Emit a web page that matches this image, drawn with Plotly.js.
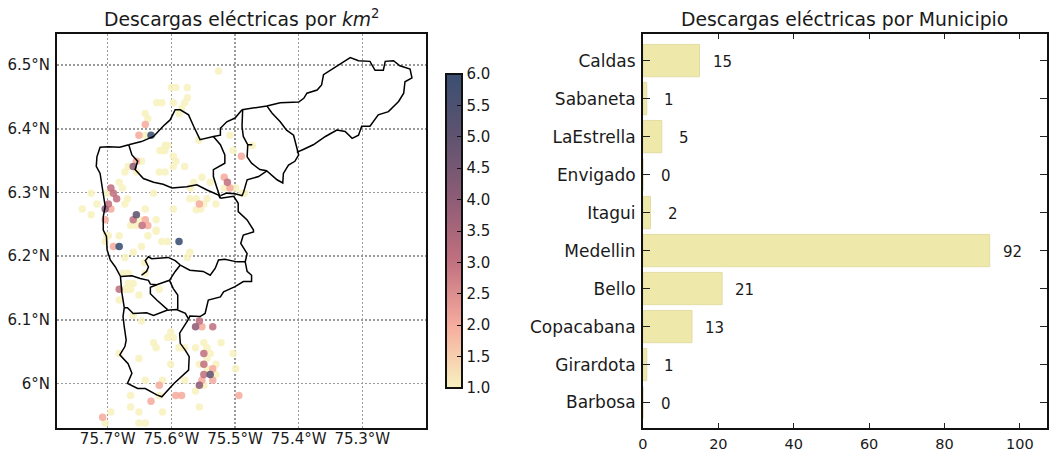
<!DOCTYPE html>
<html>
<head>
<meta charset="utf-8">
<script src="https://cdn.plot.ly/plotly-3.0.1.min.js"></script>
<style>html,body{margin:0;padding:0;background:#fff}#c{width:1052px;height:453px}</style>
</head>
<body>
<div id="c"></div>
<script>
// Strikes per cell: [longitude, latitude] grouped by count
const strikes1 = [
[-75.526,6.491],[-75.600,6.465],[-75.593,6.465],[-75.575,6.465],[-75.623,6.441],[-75.615,6.441],[-75.575,6.449],[-75.579,6.441],[-75.597,6.441],[-75.584,6.432],[-75.588,6.424],
[-75.641,6.424],[-75.637,6.416],[-75.641,6.390],[-75.557,6.382],[-75.508,6.390],[-75.473,6.374],[-75.503,6.366],
[-75.618,6.366],[-75.610,6.374],[-75.606,6.374],[-75.614,6.366],[-75.610,6.366],[-75.597,6.357],[-75.593,6.349],[-75.597,6.341],[-75.579,6.341],
[-75.647,6.349],[-75.668,6.341],[-75.673,6.332],[-75.655,6.332],[-75.619,6.332],[-75.610,6.332],
[-75.552,6.324],[-75.565,6.316],[-75.539,6.316],[-75.570,6.307],[-75.682,6.316],[-75.677,6.307],[-75.517,6.307],[-75.499,6.307],[-75.485,6.299],[-75.489,6.299],
[-75.726,6.299],[-75.700,6.299],[-75.628,6.299],[-75.571,6.290],[-75.561,6.290],[-75.544,6.290],[-75.530,6.282],[-75.549,6.282],[-75.561,6.273],[-75.554,6.274],[-75.597,6.274],
[-75.669,6.290],[-75.673,6.282],[-75.717,6.282],[-75.740,6.274],[-75.726,6.265],[-75.641,6.274],[-75.624,6.257],[-75.650,6.257],[-75.664,6.248],[-75.655,6.248],[-75.624,6.241],
[-75.702,6.233],[-75.682,6.232],[-75.704,6.223],[-75.637,6.232],[-75.624,6.239],[-75.615,6.223],[-75.606,6.223],[-75.647,6.215],[-75.699,6.232],
[-75.571,6.206],[-75.660,6.206],[-75.673,6.198],[-75.575,6.198],[-75.642,6.190],[-75.676,6.173],[-75.668,6.173],[-75.641,6.173],
[-75.668,6.157],[-75.660,6.157],[-75.668,6.148],[-75.664,6.148],[-75.673,6.148],[-75.619,6.148],[-75.651,6.139],[-75.682,6.131],[-75.660,6.107],[-75.647,6.098],
[-75.601,6.081],[-75.606,6.072],[-75.597,6.072],[-75.628,6.064],[-75.624,6.056],[-75.588,6.056],[-75.579,6.056],[-75.562,6.056],[-75.549,6.064],[-75.544,6.056],[-75.522,6.064],
[-75.503,6.047],[-75.682,6.047],[-75.539,6.047],[-75.544,6.039],[-75.651,6.039],[-75.601,6.030],[-75.556,6.030],[-75.530,6.030],[-75.499,6.023],[-75.544,6.023],[-75.530,6.014],
[-75.641,6.005],[-75.614,6.005],[-75.579,6.005],[-75.549,5.997],[-75.562,5.988],[-75.664,5.981],[-75.619,5.981],[-75.664,5.963],[-75.556,5.963],[-75.651,5.955],[-75.614,5.955],[-75.695,5.955],
[-75.704,5.938],[-75.651,5.938],[-75.641,5.938]];
const strikes2 = [[-75.641,6.407],[-75.651,6.390],[-75.490,6.357],[-75.655,6.349],[-75.517,6.324],[-75.508,6.307],[-75.556,6.282],[-75.695,6.274],[-75.704,6.257],[-75.641,6.257],[-75.637,6.248],[-75.691,6.215],[-75.552,6.089],[-75.535,6.023],[-75.552,6.005],[-75.535,6.005],[-75.619,5.997],[-75.593,5.981],[-75.584,5.981],[-75.494,5.981],[-75.632,5.972],[-75.708,5.947]];
const strikes3 = [[-75.695,6.307],[-75.691,6.299],[-75.686,6.290],[-75.646,6.248],[-75.512,6.316],[-75.699,6.282],[-75.660,6.257],[-75.682,6.148],[-75.556,6.098],[-75.535,6.089],[-75.549,6.047],[-75.549,6.030],[-75.549,6.014]];
const strikes4 = [[-75.660,6.341],[-75.704,6.274],[-75.562,6.089],[-75.556,5.997]];
const strikes5 = [[-75.655,6.265],[-75.539,6.014]];
const strikes6 = [[-75.632,6.390],[-75.588,6.223],[-75.682,6.215]];

// Municipal boundaries, each a run of [longitude, latitude]
const boundaryBarbosa = [[-75.489,6.430],[-75.481,6.431],[-75.466,6.434],[-75.450,6.436],[-75.429,6.441],[-75.400,6.442],[-75.392,6.448],[-75.387,6.456],[-75.371,6.461],[-75.364,6.469],[-75.361,6.485],[-75.345,6.495],[-75.327,6.506],[-75.319,6.512],[-75.306,6.507],[-75.288,6.506],[-75.280,6.492],[-75.267,6.492],[-75.264,6.506],[-75.251,6.507],[-75.241,6.499],[-75.225,6.494],[-75.222,6.480],[-75.233,6.474],[-75.235,6.456],[-75.243,6.443],[-75.259,6.427],[-75.275,6.422],[-75.288,6.404],[-75.301,6.404],[-75.306,6.390],[-75.316,6.385],[-75.327,6.396],[-75.340,6.398],[-75.358,6.388],[-75.377,6.375],[-75.392,6.368],[-75.403,6.363]];
const boundaryGirardota = [[-75.450,6.436],[-75.442,6.425],[-75.429,6.411],[-75.419,6.398],[-75.408,6.390],[-75.404,6.375],[-75.400,6.359],[-75.406,6.349],[-75.416,6.343],[-75.424,6.330],[-75.425,6.315],[-75.434,6.320],[-75.450,6.334],[-75.463,6.325],[-75.481,6.320],[-75.487,6.299]];
const boundaryCopacabanaEast = [[-75.488,6.430],[-75.489,6.404],[-75.487,6.388],[-75.480,6.375],[-75.473,6.375],[-75.480,6.375],[-75.481,6.356],[-75.474,6.346],[-75.461,6.336],[-75.450,6.334]];
const boundaryNorth = [[-75.667,6.375],[-75.647,6.380],[-75.628,6.388],[-75.613,6.404],[-75.602,6.414],[-75.594,6.430],[-75.586,6.430],[-75.573,6.422],[-75.565,6.404],[-75.555,6.383],[-75.534,6.388],[-75.523,6.390],[-75.523,6.401],[-75.513,6.411],[-75.500,6.417],[-75.489,6.430]];
const boundaryBelloEast = [[-75.534,6.388],[-75.523,6.375],[-75.516,6.359],[-75.516,6.346],[-75.534,6.336],[-75.534,6.325],[-75.529,6.309],[-75.523,6.291]];
const boundaryCopacabanaSouth = [[-75.523,6.295],[-75.513,6.299],[-75.500,6.298],[-75.489,6.295],[-75.487,6.299]];
const boundaryWest = [[-75.667,6.375],[-75.681,6.371],[-75.699,6.372],[-75.712,6.371],[-75.717,6.356],[-75.718,6.341],[-75.712,6.330],[-75.709,6.309],[-75.707,6.294],[-75.704,6.278],[-75.707,6.262],[-75.707,6.241],[-75.702,6.231],[-75.701,6.210],[-75.696,6.194],[-75.688,6.183],[-75.680,6.168],[-75.678,6.144],[-75.674,6.119]];
const boundaryBelloSouth = [[-75.667,6.375],[-75.662,6.359],[-75.653,6.349],[-75.657,6.336],[-75.644,6.322],[-75.628,6.316],[-75.613,6.313],[-75.599,6.307],[-75.576,6.309],[-75.560,6.312],[-75.544,6.304],[-75.526,6.296],[-75.523,6.291]];
const boundaryMedellinEast = [[-75.523,6.291],[-75.502,6.294],[-75.495,6.283],[-75.495,6.270],[-75.481,6.257],[-75.471,6.241],[-75.471,6.238],[-75.487,6.233],[-75.491,6.220],[-75.481,6.204],[-75.484,6.191],[-75.481,6.176],[-75.474,6.170],[-75.474,6.160],[-75.487,6.160],[-75.500,6.152],[-75.518,6.144],[-75.523,6.136],[-75.542,6.131],[-75.547,6.110],[-75.555,6.105],[-75.571,6.106],[-75.573,6.101]];
const boundaryLaEstrellaNorth = [[-75.679,6.168],[-75.662,6.169],[-75.649,6.165],[-75.636,6.162],[-75.633,6.156],[-75.623,6.155],[-75.603,6.162],[-75.594,6.176],[-75.586,6.186]];
const boundaryItagui = [[-75.586,6.186],[-75.594,6.193],[-75.605,6.198],[-75.631,6.196],[-75.636,6.199],[-75.641,6.193],[-75.636,6.183],[-75.639,6.176],[-75.647,6.170]];
const boundaryEnvigado = [[-75.586,6.186],[-75.571,6.178],[-75.550,6.176],[-75.539,6.170],[-75.531,6.181],[-75.526,6.194],[-75.516,6.195],[-75.497,6.191],[-75.484,6.191]];
const boundarySabaneta = [[-75.603,6.162],[-75.597,6.149],[-75.590,6.139],[-75.590,6.116]];
const boundaryLaEstrellaSouth = [[-75.623,6.155],[-75.633,6.151],[-75.633,6.141],[-75.623,6.131],[-75.606,6.116]];
const boundaryCaldasNorth = [[-75.674,6.119],[-75.669,6.119],[-75.660,6.110],[-75.639,6.111],[-75.628,6.107],[-75.607,6.115],[-75.592,6.116],[-75.578,6.110],[-75.573,6.101]];
const boundaryCaldas = [[-75.674,6.119],[-75.676,6.105],[-75.674,6.089],[-75.671,6.068],[-75.673,6.058],[-75.681,6.045],[-75.668,6.031],[-75.662,6.016],[-75.669,6.000],[-75.653,5.992],[-75.641,5.992],[-75.623,5.982],[-75.615,5.979],[-75.605,5.990],[-75.596,6.000],[-75.573,6.021],[-75.572,6.042],[-75.578,6.052],[-75.586,6.063],[-75.587,6.079],[-75.573,6.101]];
const boundaries = [boundaryBarbosa,boundaryGirardota,boundaryCopacabanaEast,boundaryNorth,boundaryBelloEast,boundaryCopacabanaSouth,boundaryWest,boundaryBelloSouth,boundaryMedellinEast,boundaryLaEstrellaNorth,boundaryItagui,boundaryEnvigado,boundarySabaneta,boundaryLaEstrellaSouth,boundaryCaldasNorth,boundaryCaldas];

// Bars
const municipios = ['Barbosa','Girardota','Copacabana','Bello','Medellin','Itagui','Envigado','LaEstrella','Sabaneta','Caldas'];
const descargas = [0,1,13,21,92,2,0,5,1,15];

// Ticks
const lonTicks = [-75.7,-75.6,-75.5,-75.4,-75.3];
const lonLabels = ['75.7°W','75.6°W','75.5°W','75.4°W','75.3°W'];
const latTicks = [6.0,6.1,6.2,6.3,6.4,6.5];
const latLabels = ['6°N','6.1°N','6.2°N','6.3°N','6.4°N','6.5°N'];
const cbTicks = [1,1.5,2,2.5,3,3.5,4,4.5,5,5.5,6];
const barTicks = [0,20,40,60,80,100];

const FONT = 'DejaVu Sans, sans-serif';
const INK = '#1a1a1a';

const groups = [strikes1,strikes2,strikes3,strikes4,strikes5,strikes6];
const lon = [], lat = [], val = [];
groups.forEach((g,i)=>g.forEach(p=>{lon.push(p[0]);lat.push(p[1]);val.push(i+1);}));

const lineLon = [], lineLat = [];
boundaries.forEach(b=>{b.forEach(p=>{lineLon.push(p[0]);lineLat.push(p[1]);});lineLon.push(null);lineLat.push(null);});

const traces = [
 {type:'scatter',mode:'markers',x:lon,y:lat,xaxis:'x',yaxis:'y',showlegend:false,hoverinfo:'skip',
  marker:{size:7.5,color:val,cmin:1,cmax:6,opacity:0.88,line:{width:0},
   colorscale:[[0,'#f8f1c0'],[0.2,'#f6ac9e'],[0.4,'#c2717f'],[0.6,'#8f5c76'],[0.8,'#5f5370'],[1,'#3a4f72']],
   showscale:true,
   colorbar:{x:0.393,xanchor:'left',xpad:0,y:0.1015,yanchor:'bottom',ypad:0,len:0.797,lenmode:'fraction',thickness:16,thicknessmode:'pixels',
    outlinecolor:'#111',outlinewidth:2,ticks:'inside',ticklen:6,tickwidth:1,tickcolor:'#111',
    tickmode:'array',tickvals:cbTicks,ticktext:cbTicks.map(v=>v.toFixed(1)),tickfont:{family:FONT,size:15,color:INK},ticklabelposition:'outside'}}},
 {type:'scatter',mode:'lines',x:lineLon,y:lineLat,xaxis:'x',yaxis:'y',showlegend:false,hoverinfo:'skip',connectgaps:false,
  line:{color:'#000',width:1.5}},
 {type:'bar',orientation:'h',x:descargas,y:municipios,xaxis:'x2',yaxis:'y2',showlegend:false,width:0.85,hoverinfo:'skip',
  marker:{color:'#eee8aa',line:{color:'#e2dca4',width:1}}}
];

const barLabels = municipios.map((m,i)=>({x:descargas[i]+6,y:m,xref:'x2',yref:'y2',text:String(descargas[i]),showarrow:false,yshift:-1,
  font:{family:FONT,size:15,color:INK},xanchor:'center',yanchor:'middle'}));

const titles = [
 {xref:'x domain',yref:'paper',x:0.5,y:1,yanchor:'bottom',yshift:2,showarrow:false,text:'Descargas eléctricas por <i>km</i><sup>2</sup>',font:{family:FONT,size:18.8,color:INK}},
 {xref:'x2 domain',yref:'paper',x:0.5,y:1,yanchor:'bottom',yshift:2,showarrow:false,text:'Descargas eléctricas por Municipio',font:{family:FONT,size:18.8,color:INK}}
];

const frame = {showline:true,linecolor:'#111',linewidth:2,mirror:true,zeroline:false};
const dotted = {showgrid:true,gridcolor:'#9a9a9a',griddash:'2px,2px',gridwidth:1.5};
const layout = {
 width:1052,height:453,paper_bgcolor:'#fff',plot_bgcolor:'#fff',
 margin:{l:57,r:5,t:34,b:25,autoexpand:false,pad:0},
 font:{family:FONT,color:INK},showlegend:false,bargap:0,
 xaxis:Object.assign({},frame,dotted,{domain:[0,0.3727],range:[-75.7797,-75.2],tickmode:'array',tickvals:lonTicks,ticktext:lonLabels,
   ticks:'',ticklabelstandoff:-4,tickfont:{size:15,family:FONT,color:INK},anchor:'y'}),
 yaxis:Object.assign({},frame,dotted,{range:[5.93,6.549],tickmode:'array',tickvals:latTicks,ticktext:latLabels,
   ticks:'',ticklabelstandoff:2,tickfont:{size:15,family:FONT,color:INK},anchor:'x'}),
 xaxis2:Object.assign({},frame,{domain:[0.5919,1],range:[0,107.2],tickmode:'array',tickvals:barTicks,ticks:'inside',ticklen:5,tickwidth:1,tickcolor:'#222',
   mirror:'ticks',showgrid:false,ticklabelstandoff:2,tickfont:{size:14.5,family:FONT,color:INK},anchor:'y2'}),
 yaxis2:Object.assign({},frame,{type:'category',categoryorder:'array',categoryarray:municipios,range:[-0.67,9.7],ticks:'inside',ticklen:7,tickwidth:1,tickcolor:'#222',
   mirror:'ticks',showgrid:false,ticklabelstandoff:2,tickfont:{size:17,family:FONT,color:INK},anchor:'x2'}),
 annotations:titles.concat(barLabels)
};
Plotly.newPlot('c',traces,layout,{displayModeBar:false,staticPlot:true});
</script>
</body>
</html>
